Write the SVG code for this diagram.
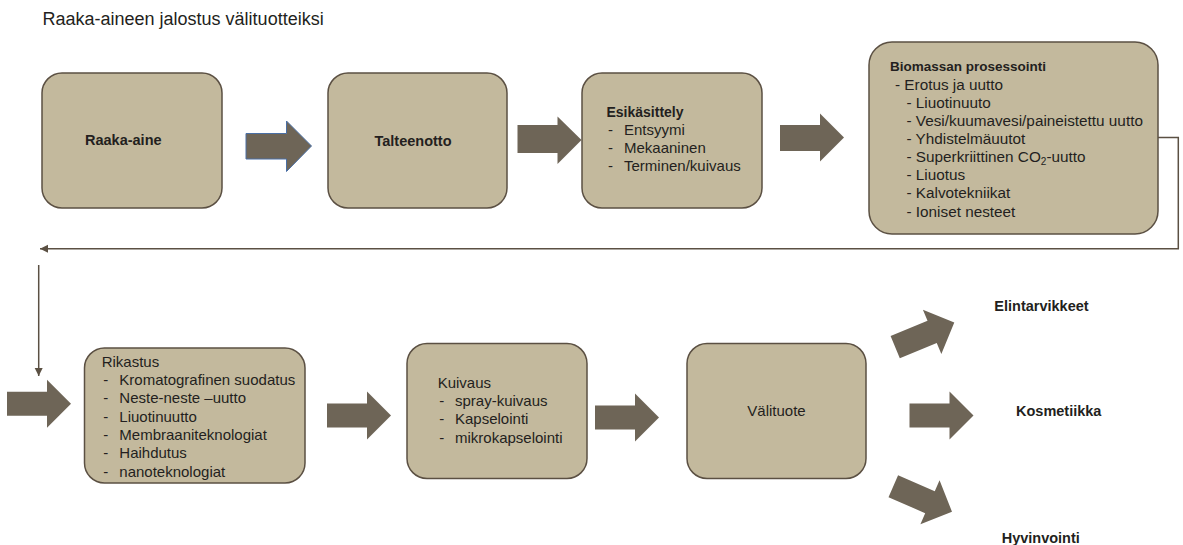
<svg xmlns="http://www.w3.org/2000/svg" width="1183" height="545" viewBox="0 0 1183 545">
  <style>
    .box { fill: #c3b99d; stroke: #5b5043; stroke-width: 1.5; }
    .blk { fill: #6e6557; }
    .t { font-family: "Liberation Sans", Arial, sans-serif; fill: #231f20; }
    .r15 { font-size: 15px; }
    .b { font-weight: bold; font-size: 14.5px; }
    .line { fill: none; stroke: #5b5043; stroke-width: 1.5; }
  </style>
  <defs>
    <marker id="ah" markerUnits="userSpaceOnUse" markerWidth="9" markerHeight="9" refX="8" refY="4" orient="auto">
      <path d="M0,0 L8,4 L0,8 z" fill="#5b5043"/>
    </marker>
    <polygon id="blockArrow" points="0,-12 40,-12 40,-24 64,0 40,24 40,12 0,12"/>
  </defs>
  <rect width="1183" height="545" fill="#ffffff"/>

  <text class="t" x="42.5" y="25" font-size="18" fill="#333">Raaka-aineen jalostus välituotteiksi</text>

  <g id="connectors">
    <polygon class="blk" stroke="#4a6fa5" stroke-width="1" points="246,133.5 286.5,133.5 286.5,121 311.5,146 286.5,171.5 286.5,159 246,159"/>
    <polygon class="blk" points="517.5,125 557.5,125 557.5,116.5 581.5,140 557.5,164 557.5,153 517.5,153"/>
    <polygon class="blk" points="780,125 820,125 820,113.5 844,137.5 820,161.5 820,151 780,151"/>
    <polyline class="line" points="1158,137.5 1178.3,137.5 1178.3,248.7 40,248.7" marker-end="url(#ah)"/>
    <line class="line" x1="38.7" y1="265" x2="38.7" y2="376" marker-end="url(#ah)"/>
    <use href="#blockArrow" class="blk" transform="translate(7,403.8) scale(1,1)"/>
    <use href="#blockArrow" class="blk" transform="translate(327,415.5)"/>
    <use href="#blockArrow" class="blk" transform="translate(595,417.5)"/>
    <use href="#blockArrow" class="blk" transform="translate(895.2,347.2) rotate(-22.6)"/>
    <use href="#blockArrow" class="blk" transform="translate(909.5,415.5)"/>
    <use href="#blockArrow" class="blk" transform="translate(893.3,486.2) rotate(23.5)"/>
  </g>

  <g id="raaka-aine">
    <rect class="box" x="42" y="73" width="180" height="135" rx="20"/>
    <text class="t b" x="85" y="145">Raaka-aine</text>
  </g>

  <g id="talteenotto">
    <rect class="box" x="328" y="73" width="179" height="135" rx="20"/>
    <text class="t b" x="374.5" y="146">Talteenotto</text>
  </g>

  <g id="esikasittely">
    <rect class="box" x="582" y="73" width="180" height="135" rx="20"/>
    <text class="t" x="606.5" y="116.7" font-weight="bold" font-size="14">Esikäsittely</text>
    <g class="t r15">
      <text x="608" y="135">-</text><text x="624" y="135">Entsyymi</text>
      <text x="608" y="153.3">-</text><text x="624" y="153.3">Mekaaninen</text>
      <text x="608" y="171">-</text><text x="624" y="171">Terminen/kuivaus</text>
    </g>
  </g>

  <g id="biomassan-prosessointi">
    <rect class="box" x="869" y="42" width="289" height="192" rx="23"/>
    <text class="t" x="890" y="70.7" font-weight="bold" font-size="13.5">Biomassan prosessointi</text>
    <g class="t" font-size="15.3">
      <text x="895" y="90">- Erotus ja uutto</text>
      <text x="906.5" y="108">- Liuotinuuto</text>
      <text x="906.5" y="126">- Vesi/kuumavesi/paineistettu uutto</text>
      <text x="906.5" y="144">- Yhdistelmäuutot</text>
      <text x="906.5" y="162">- Superkriittinen CO<tspan font-size="10" dy="3">2</tspan><tspan dy="-3">-uutto</tspan></text>
      <text x="906.5" y="180">- Liuotus</text>
      <text x="906.5" y="198">- Kalvotekniikat</text>
      <text x="906.5" y="216.5">- Ioniset nesteet</text>
    </g>
  </g>

  <g id="rikastus">
    <rect class="box" x="84.5" y="348" width="220.5" height="135" rx="20"/>
    <g class="t r15">
      <text x="101.7" y="366.7">Rikastus</text>
      <text x="103.3" y="385">-</text><text x="119.3" y="385">Kromatografinen suodatus</text>
      <text x="103.3" y="403.3">-</text><text x="119.3" y="403.3">Neste-neste –uutto</text>
      <text x="103.3" y="421.7">-</text><text x="119.3" y="421.7">Liuotinuutto</text>
      <text x="103.3" y="440">-</text><text x="119.3" y="440">Membraaniteknologiat</text>
      <text x="103.3" y="458.3">-</text><text x="119.3" y="458.3">Haihdutus</text>
      <text x="103.3" y="476.7">-</text><text x="119.3" y="476.7">nanoteknologiat</text>
    </g>
  </g>

  <g id="kuivaus">
    <rect class="box" x="407" y="343.5" width="180" height="135" rx="20"/>
    <g class="t r15">
      <text x="437.7" y="387.7">Kuivaus</text>
      <text x="439.3" y="405.7">-</text><text x="455" y="405.7">spray-kuivaus</text>
      <text x="439.3" y="424.3">-</text><text x="455" y="424.3">Kapselointi</text>
      <text x="439.3" y="442.7">-</text><text x="455" y="442.7">mikrokapselointi</text>
    </g>
  </g>

  <g id="valituote">
    <rect class="box" x="687" y="343.5" width="179" height="135" rx="20"/>
    <text class="t r15" x="776.5" y="416" text-anchor="middle">Välituote</text>
  </g>

  <g id="elintarvikkeet">
    <text class="t b" x="994.3" y="310.7">Elintarvikkeet</text>
  </g>
  <g id="kosmetiikka">
    <text class="t b" x="1016" y="416">Kosmetiikka</text>
  </g>
  <g id="hyvinvointi">
    <text class="t b" x="1001.7" y="543">Hyvinvointi</text>
  </g>
</svg>
